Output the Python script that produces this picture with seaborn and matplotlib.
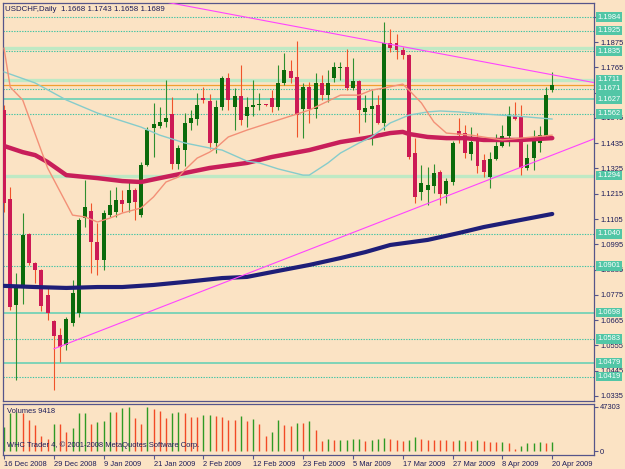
import numpy as np
import pandas as pd
import matplotlib
matplotlib.use("Agg")
import matplotlib.pyplot as plt
import matplotlib.transforms as mtransforms
import seaborn as sns

# ---- data (bar index 0 = 16 Dec 2008) ----
opens = [1.1579, 1.1192, 1.0731, 1.0818, 1.1040, 1.0914, 1.0883, 1.0774, 1.0661, 1.0600,
         1.0557, 1.0653, 1.0696, 1.1109, 1.1140, 1.1005, 1.0927, 1.1122, 1.1136, 1.1188,
         1.1175, 1.1231, 1.1122, 1.1340, 1.1501, 1.1510, 1.1527, 1.1562, 1.1344, 1.1405,
         1.1523, 1.1540, 1.1631, 1.1618, 1.1436, 1.1592, 1.1718, 1.1592, 1.1640, 1.1553,
         1.1592, 1.1599, 1.1603, 1.1631, 1.1592, 1.1697, 1.1749, 1.1723, 1.1584, 1.1679,
         1.1584, 1.1697, 1.1644, 1.1718, 1.1762, 1.1766, 1.1675, 1.1705, 1.1571, 1.1584,
         1.1601, 1.1523, 1.1871, 1.1871, 1.1840, 1.1818, 1.1392, 1.1222, 1.1231, 1.1249,
         1.1310, 1.1214, 1.1266, 1.1488, 1.1479, 1.1388, 1.1453, 1.1362, 1.1288, 1.1366,
         1.1423, 1.1466, 1.1553, 1.1549, 1.1327, 1.1370, 1.1436, 1.1466, 1.1668]
highs = [1.1601, 1.1244, 1.0870, 1.1131, 1.1044, 1.0918, 1.0887, 1.0805, 1.0665, 1.0631,
         1.0679, 1.0840, 1.1110, 1.1275, 1.1175, 1.1088, 1.1144, 1.1231, 1.1244, 1.1231,
         1.1264, 1.1240, 1.1353, 1.1505, 1.1610, 1.1592, 1.1710, 1.1636, 1.1427, 1.1566,
         1.1579, 1.1653, 1.1679, 1.1650, 1.1623, 1.1727, 1.1740, 1.1675, 1.1775, 1.1637,
         1.1710, 1.1653, 1.1606, 1.1666, 1.1775, 1.1827, 1.1797, 1.1879, 1.1697, 1.1701,
         1.1740, 1.1731, 1.1753, 1.1788, 1.1788, 1.1845, 1.1805, 1.1710, 1.1645, 1.1666,
         1.1645, 1.1962, 1.1932, 1.1910, 1.1853, 1.1823, 1.1457, 1.1340, 1.1331, 1.1343,
         1.1318, 1.1283, 1.1444, 1.1544, 1.1514, 1.1505, 1.1479, 1.1388, 1.1397, 1.1475,
         1.1514, 1.1597, 1.1614, 1.1601, 1.1431, 1.1492, 1.1510, 1.1679, 1.1743]
lows = [1.1136, 1.0709, 1.0405, 1.0735, 1.0905, 1.0827, 1.0705, 1.0666, 1.0361, 1.0483,
        1.0535, 1.0640, 1.0680, 1.1070, 1.0870, 1.0861, 1.0883, 1.1114, 1.1114, 1.1136,
        1.1136, 1.1101, 1.1114, 1.1336, 1.1375, 1.1501, 1.1505, 1.1323, 1.1323, 1.1336,
        1.1492, 1.1514, 1.1610, 1.1410, 1.1392, 1.1580, 1.1579, 1.1492, 1.1514, 1.1507,
        1.1553, 1.1579, 1.1598, 1.1570, 1.1579, 1.1688, 1.1697, 1.1462, 1.1457, 1.1523,
        1.1544, 1.1623, 1.1614, 1.1701, 1.1710, 1.1666, 1.1666, 1.1479, 1.1527, 1.1427,
        1.1518, 1.1492, 1.1831, 1.1801, 1.1801, 1.1366, 1.1175, 1.1188, 1.1166, 1.1218,
        1.1166, 1.1175, 1.1253, 1.1436, 1.1370, 1.1362, 1.1305, 1.1288, 1.1240, 1.1360,
        1.1418, 1.1423, 1.1536, 1.1296, 1.1318, 1.1318, 1.1396, 1.1457, 1.1658]
closes = [1.1175, 1.0722, 1.0818, 1.1035, 1.0914, 1.0883, 1.0727, 1.0696, 1.0596, 1.0548,
          1.0670, 1.0783, 1.1101, 1.1157, 1.1005, 1.0927, 1.1131, 1.1166, 1.1188, 1.1170,
          1.1231, 1.1179, 1.1340, 1.1492, 1.1518, 1.1527, 1.1544, 1.1344, 1.1414, 1.1523,
          1.1544, 1.1601, 1.1623, 1.1436, 1.1592, 1.1718, 1.1623, 1.1640, 1.1536, 1.1592,
          1.1601, 1.1605, 1.1601, 1.1592, 1.1697, 1.1753, 1.1718, 1.1557, 1.1679, 1.1584,
          1.1697, 1.1644, 1.1697, 1.1766, 1.1766, 1.1675, 1.1705, 1.1579, 1.1588, 1.1597,
          1.1523, 1.1871, 1.1849, 1.1840, 1.1818, 1.1375, 1.1201, 1.1262, 1.1253, 1.1305,
          1.1214, 1.1270, 1.1436, 1.1470, 1.1392, 1.1440, 1.1336, 1.1310, 1.1366, 1.1423,
          1.1466, 1.1553, 1.1540, 1.1327, 1.1370, 1.1457, 1.1470, 1.1644, 1.1689]
volumes = [26200, 40200, 41800, 40200, 33700, 27900, 15900, 12600, 28800, 28500,
           20700, 24600, 40800, 41100, 28800, 31400, 32100, 41800, 41500, 46000,
           47303, 35300, 29500, 46600, 45000, 42800, 35300, 40800, 41500, 40800,
           36300, 36000, 38500, 38800, 37900, 36300, 33400, 33000, 37600, 32700,
           34700, 29500, 15900, 20700, 33700, 28200, 27200, 30500, 30000, 32700,
           22400, 11000, 12600, 11700, 12000, 12300, 12600, 13000, 11000, 12000,
           12600, 13900, 13000, 11700, 11000, 12300, 14900, 12600, 12300, 12000,
           11800, 11600, 11400, 12300, 11300, 10700, 12000, 10400, 10000, 9400,
           10000, 9100, 1900, 6000, 8400, 9100, 9400, 9300, 9418]

# moving averages, sampled at selected bars
ma_fast_bar = [0, 1, 3, 4, 7, 11, 13, 15, 17, 19, 22, 24, 26, 28, 29, 31, 33, 34, 36, 39,
               43, 49, 54, 57, 59, 61, 64, 65, 67, 69, 71, 75, 80, 83, 88]
ma_fast = [1.1849, 1.1679, 1.1623, 1.1549, 1.1327, 1.1122, 1.1114, 1.1092, 1.1109, 1.1131,
           1.1153, 1.1201, 1.1266, 1.1288, 1.1318, 1.1370, 1.1396, 1.1414, 1.1462, 1.1492,
           1.1527, 1.1579, 1.1644, 1.1644, 1.1666, 1.1675, 1.1692, 1.1666, 1.1610, 1.1527,
           1.1479, 1.1470, 1.1449, 1.1457, 1.1470]
ma_mid_bar = [0, 5, 10, 15, 19, 22, 25, 29, 33, 35, 39, 41, 44, 48, 49, 52, 54, 57, 59, 62,
              65, 68, 70, 73, 77, 82, 84, 88]
ma_mid = [1.1745, 1.1697, 1.1623, 1.1566, 1.1531, 1.1505, 1.1470, 1.1436, 1.1414, 1.1405,
          1.1357, 1.1349, 1.1323, 1.1296, 1.1296, 1.1349, 1.1392, 1.1436, 1.1462, 1.1523,
          1.1557, 1.1571, 1.1575, 1.1571, 1.1562, 1.1553, 1.1549, 1.1540]
ma_slow_bar = [0, 3, 5, 7, 10, 13, 15, 19, 22, 25, 29, 33, 39, 43, 49, 54, 58, 62, 64, 65,
               68, 71, 74, 77, 83, 88]
ma_slow = [1.1423, 1.1396, 1.1383, 1.1353, 1.1296, 1.1288, 1.1283, 1.1270, 1.1266, 1.1283,
           1.1305, 1.1327, 1.1349, 1.1375, 1.1405, 1.1440, 1.1457, 1.1479, 1.1484, 1.1475,
           1.1462, 1.1457, 1.1457, 1.1449, 1.1449, 1.1457]
ma_long_bar = [0, 5, 10, 15, 19, 24, 29, 35, 39, 43, 49, 54, 58, 62, 68, 73, 77, 82, 88]
ma_long = [1.0814, 1.0809, 1.0805, 1.0809, 1.0809, 1.0818, 1.0831, 1.0848, 1.0853, 1.0874,
           1.0905, 1.0935, 1.0961, 1.0992, 1.1014, 1.1044, 1.1070, 1.1096, 1.1127]

# trend lines (bar, price)
trend_upper_bar = [25, 95]
trend_upper = [1.2054, 1.1697]
trend_lower_bar = [8, 95]
trend_lower = [1.0540, 1.1457]

# horizontal levels and their kind
levels = [1.1984, 1.1925, 1.1850, 1.1835, 1.1711, 1.1671, 1.1627, 1.1562,
          1.1294, 1.1040, 1.0901, 1.0698, 1.0583, 1.0479, 1.0419]
level_kind = ['dot', 'dot', 'band', 'dot', 'band', 'dot', 'solid', 'dot',
              'band', 'dot', 'dot', 'solid', 'dot', 'solid', 'dot']
level_tagged = [True, True, False, True, True, True, True, True,
                True, True, True, True, True, True, True]

# price scale labels that are fully hidden behind level tags in the chart
hidden_price_ticks = [1.1985, 1.1655]

date_tick_bar = [0, 8, 16, 24, 32, 40, 48, 56, 64, 72, 80, 88]
date_tick_labels = ['16 Dec 2008', '29 Dec 2008', '9 Jan 2009', '21 Jan 2009', '2 Feb 2009',
                    '12 Feb 2009', '23 Feb 2009', '5 Mar 2009', '17 Mar 2009', '27 Mar 2009',
                    '8 Apr 2009', '20 Apr 2009']

# ---- styling ----
BG = '#FBE3C4'
FRAME = '#55558A'
TXT = '#1C1C5A'
UP_BODY, UP_WICK = '#0B6A0B', '#2F8F2F'
DN_BODY, DN_WICK = '#CC1A55', '#F0532A'
level_style = {'dot': dict(color='#3EC3A4', lw=0.8, ls=(0, (1.2, 1.2))),
               'solid': dict(color='#5CCFB4', lw=1.1, ls='-'),
               'band': dict(color='#BEE9C4', lw=2.4, ls='-')}

sns.set_style("white")
plt.rcParams['font.family'] = ['Liberation Sans', 'DejaVu Sans']
FS = 5.4

fig = plt.figure(figsize=(6.25, 4.69), dpi=100, facecolor=BG)
ax = fig.add_axes([3 / 625, 68 / 469, 591 / 625, 398 / 469])
axv = fig.add_axes([3 / 625, 14 / 469, 591 / 625, 51 / 469])

o, h, l, c = map(np.array, (opens, highs, lows, closes))
x = np.arange(len(o))
up = c >= o

for a in (ax, axv):
    a.set_facecolor(BG)
    for s in a.spines.values():
        s.set_color(FRAME)
        s.set_linewidth(0.9)
    a.set_xlim(-0.16, 94.7)

# levels
for p, k in zip(levels, level_kind):
    ax.axhline(p, zorder=1, **level_style[k])
ax.axhline(c[-1], color='#F0A030', lw=0.9, zorder=1)

# candles
ax.vlines(x, l, h, colors=np.where(up, UP_WICK, DN_WICK), lw=0.8, zorder=3)
body = np.maximum(np.abs(c - o), 0.00025)
ax.bar(x, body, bottom=np.minimum(o, c), width=0.64,
       color=np.where(up, UP_BODY, DN_BODY), lw=0, zorder=4)

# moving averages
ma = pd.concat([
    pd.DataFrame({'bar': ma_long_bar, 'price': ma_long, 'ma': 'long'}),
    pd.DataFrame({'bar': ma_slow_bar, 'price': ma_slow, 'ma': 'slow'}),
    pd.DataFrame({'bar': ma_mid_bar, 'price': ma_mid, 'ma': 'mid'}),
    pd.DataFrame({'bar': ma_fast_bar, 'price': ma_fast, 'ma': 'fast'}),
])
ma_look = {'long': ('#1E1E78', 3.0), 'slow': ('#C81E5A', 3.2),
           'mid': ('#86CCCB', 1.0), 'fast': ('#F39077', 1.0)}
for name, grp in ma.groupby('ma', sort=False):
    col, lw = ma_look[name]
    sns.lineplot(data=grp, x='bar', y='price', ax=ax, color=col, lw=lw,
                 estimator=None, sort=False, legend=False, zorder=5)

# trend lines
for tb, tp in ((trend_upper_bar, trend_upper), (trend_lower_bar, trend_lower)):
    sns.lineplot(x=tb, y=tp, ax=ax, color='#FF44FF', lw=0.8, estimator=None,
                 sort=False, legend=False, zorder=6)

ax.set_ylim(1.0313, 1.2045)
ax.set_xlabel('')
ax.set_ylabel('')
ax.set_xticks([])
ax.yaxis.tick_right()
ticks = np.round(np.arange(1.0335, 1.2, 0.011), 4)
ax.set_yticks(ticks)
ax.set_yticklabels(['' if np.isclose(t, hidden_price_ticks).any() else f'{t:.4f}'
                    for t in ticks])
ax.tick_params(axis='y', which='both', right=True, left=False, length=3, width=0.8,
               color=FRAME, labelsize=FS, labelcolor=TXT, pad=1.5)

# level tags on the price scale
trans = mtransforms.blended_transform_factory(ax.transAxes, ax.transData)
for p, tagged in zip(levels, level_tagged):
    if tagged:
        ax.text(1.006, p, f'{p:.4f}', transform=trans, ha='left', va='center',
                fontsize=FS, color='white', clip_on=False, zorder=10,
                bbox=dict(boxstyle='square,pad=0.18', fc='#52C6A6', ec='none'))

ax.text(0.004, 0.992, f'USDCHF,Daily  {o[-1]:.4f} {h[-1]:.4f} {l[-1]:.4f} {c[-1]:.4f}',
        transform=ax.transAxes, ha='left', va='top', fontsize=FS + 0.3, color=TXT, zorder=11)

# volumes
v = np.array(volumes, dtype=float)
vup = np.r_[True, v[1:] >= v[:-1]]
axv.vlines(x, 0, v, colors=np.where(vup, '#2E9A24', '#F24A26'), lw=1.0)
axv.set_ylim(-4000, 50300)
axv.yaxis.tick_right()
axv.set_yticks([0, v.max()])
axv.set_yticklabels(['0', f'{int(v.max())}'])
axv.tick_params(axis='y', right=True, left=False, length=3, width=0.8, color=FRAME,
                labelsize=FS, labelcolor=TXT, pad=1.5)
axv.set_xticks(date_tick_bar)
axv.set_xticklabels(date_tick_labels, ha='left')
axv.tick_params(axis='x', bottom=True, length=3, width=0.8, color=FRAME,
                labelsize=FS, labelcolor=TXT, pad=1)
axv.text(0.006, 0.93, f'Volumes {int(v[-1])}', transform=axv.transAxes, ha='left',
         va='top', fontsize=FS, color=TXT)
axv.text(0.006, 0.2, 'WHC Trader 4, \u00a9 2001-2008 MetaQuotes Software Corp.',
         transform=axv.transAxes, ha='left', va='center', fontsize=FS, color=TXT)

fig.savefig('out.png', dpi=100, facecolor=BG)
